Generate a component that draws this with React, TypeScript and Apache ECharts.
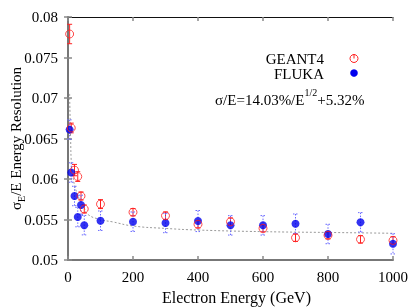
import React, { useEffect, useRef } from "react";
import * as echarts from "echarts";

const energies = [5, 10, 20, 30, 40, 50, 100, 200, 300, 400, 500, 600, 700, 800, 900, 1000];
const geant4Res = [0.0779, 0.0663, 0.0611, 0.0603, 0.0579, 0.0563, 0.0569, 0.0559, 0.05547, 0.05441, 0.05473, 0.05391, 0.05275, 0.05305, 0.05255, 0.05242];
const geant4Err = [0.0012, 0.0006, 0.0007, 0.0006, 0.0005, 0.0005, 0.00055, 0.00045, 0.00045, 0.00045, 0.00045, 0.00045, 0.00045, 0.00045, 0.00045, 0.00045];
const flukaRes = [0.0661, 0.0608, 0.0579, 0.0553, 0.0568, 0.0543, 0.05485, 0.05473, 0.05457, 0.05481, 0.05428, 0.05428, 0.05448, 0.05321, 0.05465, 0.052];
const flukaErr = [0.0012, 0.0012, 0.0012, 0.0012, 0.0012, 0.0012, 0.0012, 0.0012, 0.0012, 0.0013, 0.0012, 0.0012, 0.0012, 0.0012, 0.0012, 0.00125];
const fitEnergies = [5, 8, 11, 15, 21, 30, 37, 50, 62, 100, 138, 200, 300, 400, 600, 800, 1000];
const fitValues = [0.0705, 0.065, 0.0615, 0.0603, 0.0591, 0.058, 0.0574, 0.0564, 0.0556, 0.055, 0.0547, 0.0542, 0.0539, 0.0537, 0.0535, 0.0534, 0.0533];
const legendNames = ["GEANT4", "FLUKA"];
const formulaMain = "σ/E=14.03%/E";
const formulaSup = "1/2";
const formulaTail = "+5.32%";
const xTitle = "Electron Energy (GeV)";
const yTitleParts = ["σ", "E", "/E Energy Resolution"];

const FONT = "Liberation Serif";
const FS = 15;
const RED = "#ff2020";
const BLUE = "#0000ee";

function errorSeries(name: string, vals: number[], errs: number[], color: string, dashed: boolean) {
  return {
    type: "custom",
    name: name + "-err",
    silent: true,
    z: 2,
    encode: { x: 0, y: [1, 2] },
    data: energies.map((e, i) => [e, vals[i] - errs[i], vals[i] + errs[i]]),
    renderItem: (params: any, api: any) => {
      const x = api.value(0);
      const p1 = api.coord([x, api.value(2)]);
      const p2 = api.coord([x, api.value(1)]);
      const cap = 2.5;
      const style: any = { stroke: color, lineWidth: 1, fill: "none" };
      if (dashed) style.lineDash = [1.5, 1.5];
      return {
        type: "group",
        children: [
          { type: "line", shape: { x1: p1[0], y1: p1[1], x2: p2[0], y2: p2[1] }, style },
          { type: "line", shape: { x1: p1[0] - cap, y1: p1[1], x2: p1[0] + cap, y2: p1[1] }, style },
          { type: "line", shape: { x1: p2[0] - cap, y1: p2[1], x2: p2[0] + cap, y2: p2[1] }, style },
        ],
      };
    },
  };
}

export default function App() {
  const ref = useRef<HTMLDivElement>(null);
  useEffect(() => {
    if (!ref.current) return;
    const chart = echarts.init(ref.current, undefined, { renderer: "svg" });
    const axisLine = (color: string, width: number) => ({ show: true, lineStyle: { color, width } });
    const ticks = { show: true, inside: true, length: 4, lineStyle: { color: "#888", width: 1.5 } };
    chart.setOption({
      animation: false,
      grid: { left: 68, top: 17, width: 325, height: 243, containLabel: false },
      xAxis: [
        {
          type: "value", min: 0, max: 1000, interval: 200, position: "bottom",
          axisLine: axisLine("#777", 2), axisTick: ticks, splitLine: { show: false },
          axisLabel: { fontFamily: FONT, fontSize: FS, color: "#000", margin: 9, formatter: (v: number) => String(v) },
        },
        {
          type: "value", min: 0, max: 1000, interval: 200, position: "top",
          axisLine: axisLine("#111", 1.2), axisTick: ticks, splitLine: { show: false },
          axisLabel: { show: false },
        },
      ],
      yAxis: [
        {
          type: "value", min: 0.05, max: 0.08, interval: 0.005, position: "left",
          axisLine: axisLine("#777", 2), axisTick: ticks, splitLine: { show: false },
          axisLabel: {
            fontFamily: FONT, fontSize: FS, color: "#000", margin: 10,
            formatter: (v: number) => String(parseFloat(v.toFixed(3))),
          },
        },
        {
          type: "value", min: 0.05, max: 0.08, interval: 0.005, position: "right",
          axisLine: axisLine("#777", 1.5), axisTick: ticks, splitLine: { show: false },
          axisLabel: { show: false },
        },
      ],
      series: [
        {
          type: "line", name: "fit", smooth: true, symbol: "none", z: 1,
          data: fitEnergies.map((e, i) => [e, fitValues[i]]),
          lineStyle: { color: "#999", width: 1, type: [2, 2] },
        },
        errorSeries("GEANT4", geant4Res, geant4Err, RED, false),
        errorSeries("FLUKA", flukaRes, flukaErr, "#6a6aff", true),
        {
          type: "scatter", name: legendNames[0], z: 4, symbol: "circle", symbolSize: 8,
          data: energies.map((e, i) => [e, geant4Res[i]]),
          itemStyle: { color: "rgba(255,255,255,0)", borderColor: RED, borderWidth: 1 },
        },
        {
          type: "scatter", name: legendNames[1], z: 3, symbol: "circle", symbolSize: 8,
          data: energies.map((e, i) => [e, flukaRes[i]]),
          itemStyle: { color: BLUE },
        },
      ],
      graphic: [
        { type: "text", x: 324, y: 51, style: { text: legendNames[0], fontFamily: FONT, fontSize: FS, fill: "#000", textAlign: "right" } },
        { type: "text", x: 324, y: 66, style: { text: legendNames[1], fontFamily: FONT, fontSize: FS, fill: "#000", textAlign: "right" } },
        { type: "circle", shape: { cx: 354, cy: 58.5, r: 4 }, style: { fill: "none", stroke: RED, lineWidth: 1 } },
        { type: "line", shape: { x1: 354, y1: 54, x2: 354, y2: 58.5 }, style: { stroke: RED, lineWidth: 1 } },
        { type: "circle", shape: { cx: 354, cy: 73, r: 3.8 }, style: { fill: BLUE } },
        {
          type: "text", x: 215, y: 87,
          style: {
            text: `{n|${formulaMain}}{s|${formulaSup}}{n|${formulaTail}}`,
            fontFamily: FONT, fontSize: FS, fill: "#000",
            rich: {
              n: { fontFamily: FONT, fontSize: FS, lineHeight: 20, verticalAlign: "bottom", fill: "#000" },
              s: { fontFamily: FONT, fontSize: 10, lineHeight: 20, verticalAlign: "top", fill: "#000" },
            },
          },
        },
        { type: "text", x: 162, y: 289, style: { text: xTitle, fontFamily: FONT, fontSize: 16, fill: "#000" } },
        {
          type: "text", x: 6, y: 210, rotation: Math.PI / 2,
          style: {
            text: `{n|${yTitleParts[0]}}{s|${yTitleParts[1]}}{n|${yTitleParts[2]}}`,
            fontFamily: FONT, fontSize: FS, fill: "#000",
            rich: {
              n: { fontFamily: FONT, fontSize: FS, lineHeight: 20, verticalAlign: "middle", fill: "#000" },
              s: { fontFamily: FONT, fontSize: 10, lineHeight: 20, verticalAlign: "bottom", fill: "#000" },
            },
          },
        },
      ],
    });
    return () => chart.dispose();
  }, []);
  return <div ref={ref} style={{ position: "fixed", left: 0, top: 0, width: 415, height: 308 }} />;
}
